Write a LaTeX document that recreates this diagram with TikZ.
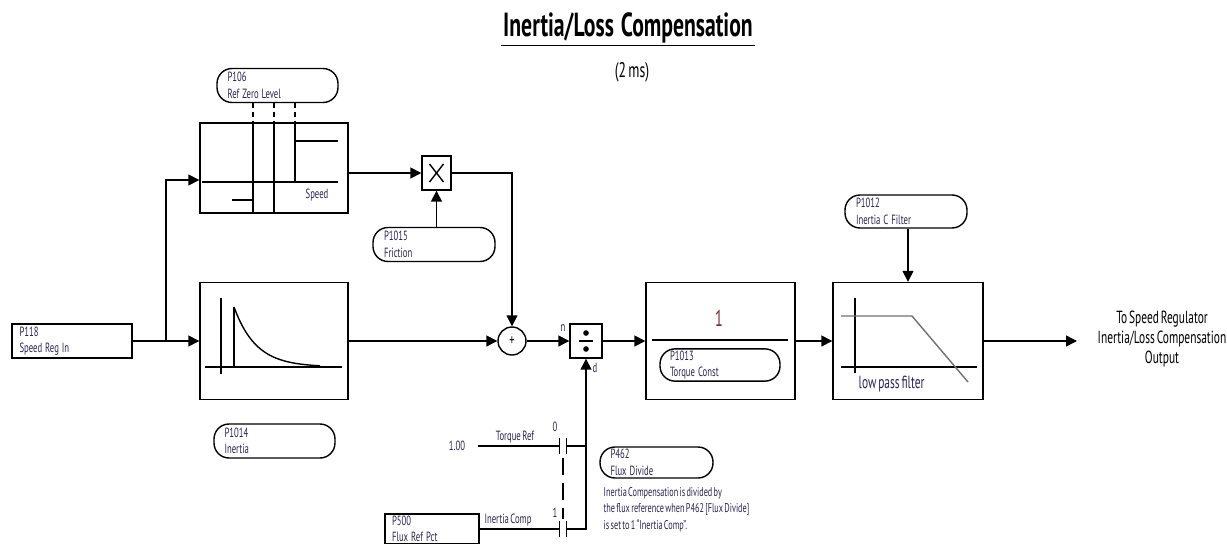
\documentclass[tikz,border=0pt]{standalone}
\usepackage{fontspec}
\setmainfont{PT Sans}[FakeStretch=0.65, WordSpace=0.6]
\usetikzlibrary{positioning, arrows.meta, calc}
\definecolor{txtnavy}{HTML}{2A2550}
\definecolor{onered}{HTML}{7A2E2E}
\definecolor{passgray}{HTML}{707070}

\tikzset{
  contact/.pic={
    \draw (-3.5,-8) -- (-3.5,8) (3.5,-8) -- (3.5,8);
  }
}

\begin{document}
\begin{tikzpicture}[
    x=0.02cm, y=-0.02cm,
    line width=0.8pt,
    >={Triangle[length=0.22cm, width=0.22cm]},
    blk/.style={rectangle, draw, minimum width=2.96cm, minimum height=2.34cm, inner sep=0pt},
    op/.style={rectangle, draw, inner sep=0pt},
    param/.style={rectangle, rounded corners=0.3cm, draw, minimum width=2.42cm,
                  minimum height=0.68cm, text width=2cm, align=left, inner xsep=0.1cm,
                  inner ysep=1pt, font=\fontsize{7.6}{9.4}\selectfont, text=txtnavy,
                  execute at begin node={\spaceskip=1.7pt\relax}},
    src/.style={rectangle, draw, minimum width=2.4cm, minimum height=0.68cm,
                text width=2.1cm, align=left, inner xsep=0.1cm, inner ysep=1pt,
                font=\fontsize{7.6}{9.4}\selectfont, text=txtnavy,
                execute at begin node={\spaceskip=1.7pt\relax}},
    lbl/.style={font=\fontsize{7.6}{9}\selectfont, text=txtnavy, inner sep=1pt},
    arr/.style={->},
  ]
  \useasboundingbox (0,0) rectangle (1227,544);

  % title
  \node[font=\fontsize{19}{22}\selectfont\bfseries, inner sep=1pt,
        execute at begin node={\spaceskip=4pt\relax}] (title) at (628,28) {Inertia/Loss Compensation};
  \draw (title.south west) -- (title.south east);
  \node[font=\fontsize{12}{14}\selectfont] (period) at (632,72) {(2 ms)};

  % parameters
  \node[param] (p106) at (277.5,85.5) {P106\\Ref Zero Level};
  \node[param, minimum width=2.44cm] (p1015) at (434,244.5) {P1015\\Friction};
  \node[param] (p1014) at (274.5,441) {P1014\\Inertia};
  \node[param, minimum width=2.4cm, minimum height=0.6cm] (p1013) at (720,365) {P1013\\Torque Const};
  \node[param, minimum width=2.26cm, minimum height=0.62cm, text width=1.84cm] (p462) at (656.5,462.5) {P462\\Flux Divide};
  \node[param, minimum width=2.44cm, minimum height=0.66cm] (p1012) at (906,211.5) {P1012\\Inertia C Filter};

  \node[src] (p118) at (72,341) {P118\\Speed Reg In};
  \node[src, minimum width=1.88cm, minimum height=0.6cm, text width=1.6cm] (p500) at (432,529) {P500\\Flux Ref Pct};

  % blocks
  \node[blk, minimum height=1.8cm] (deadband) at (274,168) {};
  \node[blk] (inertiablk) at (274,341) {};
  \node[blk, minimum width=2.98cm] (torqueblk) at (720.5,341) {};
  \node[blk, minimum width=3cm] (lpf) at (908,341) {};

  \node[op, minimum width=0.58cm, minimum height=0.68cm] (mult) at (436.5,173) {};
  \node[op, minimum width=0.64cm, minimum height=0.68cm] (div) at (586,341) {};
  \node[circle, draw, minimum size=0.56cm, inner sep=0pt, font=\fontsize{9}{10}\selectfont] (sum) at (512,341) {+};

  % block contents
  \foreach \xx in {253,274,295}
    \draw[dash pattern=on 3pt off 2pt] (\xx,103) -- (\xx,123);
  \draw (253,123) -- (253,213) (274,123) -- (274,213) (295,123) -- (295,182);
  \draw (202,182) -- (338,182) (295,141) -- (338,141) (232,200) -- (253,200);
  \node[lbl] (speedlbl) at (317,195) {Speed};

  \draw (205,367) -- (342,367) (221,298) -- (221,374) (234,367) -- (234,307);
  \draw plot[domain=0:86, smooth, samples=30] ({234+\x},{367-60*exp(-\x/22)});

  \draw ([shift={(-7,-9)}]mult.center) -- ([shift={(7,9)}]mult.center);
  \draw ([shift={(7,-9)}]mult.center) -- ([shift={(-7,9)}]mult.center);

  \draw (579,341) -- (593,341);
  \fill ([yshift=0.16cm]div.center) circle (1.6pt) ([yshift=-0.16cm]div.center) circle (1.6pt);
  \node[lbl] (nlbl) at (563,328) {n};
  \node[lbl] (dlbl) at (595,368) {d};

  \node[font=\fontsize{13}{15}\selectfont, text=onered] (gain) at (719,318) {1};
  \draw (652,340) -- (788,340);

  \draw (855,298) -- (855,373) (841,367) -- (977,367);
  \draw[passgray] (841,316) -- (912,316) -- (968,382);
  \node[anchor=west, font=\fontsize{10}{12}\selectfont, text=txtnavy, inner sep=0pt] (lpftxt) at (858,384) {low pass filter};

  % main path
  \coordinate (split) at (166,341);
  \draw (p118.east) -- (split);
  \draw[arr] (split) -- (inertiablk.west);
  \draw[arr] (split) |- ([yshift=-0.24cm]deadband.west);
  \draw[arr] (deadband.east |- mult) -- (mult.west);
  \draw[arr] (mult.south |- p1015.north) -- (mult.south);
  \draw[arr] (mult.east) -| (sum.north);
  \draw[arr] (inertiablk.east) -- (sum.west);
  \draw[arr] (sum.east) -- (div.west);
  \draw[arr] (div.east) -- (torqueblk.west);
  \draw[arr] (torqueblk.east) -- (lpf.west);
  \draw[arr] (lpf.north |- p1012.south) -- (lpf.north);
  \coordinate (outend) at (1077,341);
  \draw[arr] (lpf.east) -- (outend);
  \node[align=center, font=\fontsize{10}{11.2}\selectfont] (dest) at (1162,339) {To Speed Regulator\\Inertia/Loss Compensation\\Output};

  % flux divide selector
  \node[lbl] (unity) at (457,446) {1.00};
  \coordinate (tqsrc) at (478,446);
  \coordinate (c0) at (563,446);
  \coordinate (c1) at (563,529);
  \node[lbl] (tqlbl) at (515,437) {Torque Ref};
  \node[lbl] (iclbl) at (508,520) {Inertia Comp};
  \node[lbl] (zerolbl) at (555,427) {0};
  \node[lbl] (onelbl) at (555,513) {1};
  \draw (tqsrc) -- ([xshift=-0.07cm]c0);
  \draw ([xshift=0.07cm]c0) -- (div.south |- c0);
  \draw (p500.east |- c1) -- ([xshift=-0.07cm]c1);
  \draw[arr] ([xshift=0.07cm]c1) -| (div.south);
  \pic at (c0) {contact};
  \pic at (c1) {contact};
  \draw[dash pattern=on 0.34cm off 0.16cm] ([yshift=-0.24cm]c0) -- ([yshift=0.2cm]c1);

  \node[anchor=north west, align=left, inner sep=0pt, font=\fontsize{7.2}{9.2}\selectfont, text=txtnavy] (note) at (603,487) {Inertia Compensation is divided by\\the flux reference when P462 [Flux Divide]\\is set to 1 “Inertia Comp”.};
\end{tikzpicture}
\end{document}
